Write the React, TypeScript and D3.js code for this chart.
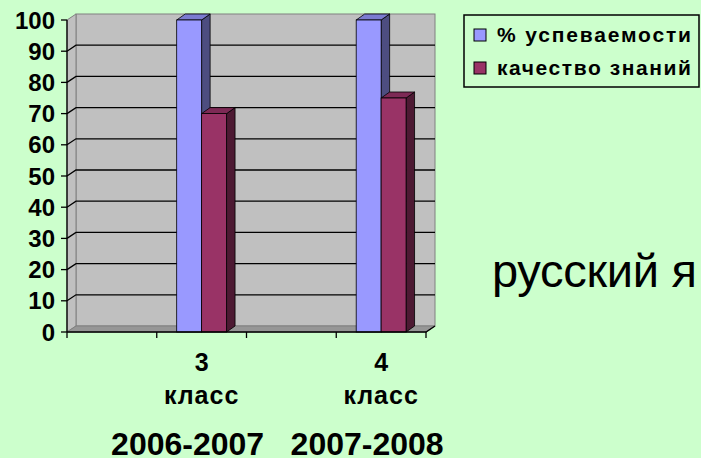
import React, { useRef, useEffect } from "react";
import { select, scaleLinear, scaleBand } from "d3";

const categories = ["", "3 класс", "", "4 класс"];
const seriesNames = ["% успеваемости", "качество знаний"];
const successRate = [null, 100, null, 100];
const knowledgeQuality = [null, 70, null, 75];
const periods = [null, "2006-2007", null, "2007-2008"];
const yTicks = [0, 10, 20, 30, 40, 50, 60, 70, 80, 90, 100];
const subject = "русский я";

const colors = {
  front: ["#9999ff", "#993366"],
  top: ["#7b7bd0", "#7d2a55"],
  side: ["#4d4d80", "#4d1a33"],
};

const FONT = "'Liberation Sans', Arial, sans-serif";

const App = () => {
  const svgRef = useRef(null);

  useEffect(() => {
    const svg = select(svgRef.current);
    svg.selectAll("*").remove();

    const W = 701;
    const H = 458;
    const left = 67;
    const right = 426;
    const bottom = 332;
    const top = 20;
    const dx = 9; // depth offset
    const dy = -6;

    svg.append("rect").attr("width", W).attr("height", H).attr("fill", "#ccffcc");

    const y = scaleLinear().domain([0, 100]).range([bottom, top]);
    const x = scaleBand()
      .domain(categories.map((_, i) => i))
      .range([left, right])
      .padding(0);
    const xs = scaleBand()
      .domain(seriesNames)
      .range([0, x.bandwidth()])
      .paddingInner(0)
      .paddingOuter(0.8);

    const g = svg.append("g");
    const pts = (arr) => arr.map((p) => p.join(",")).join(" ");

    // back wall
    g.append("rect")
      .attr("x", left + dx)
      .attr("y", top + dy)
      .attr("width", right - left)
      .attr("height", bottom - top)
      .attr("fill", "#c0c0c0")
      .attr("stroke", "#808080");

    // side wall
    g.append("polygon")
      .attr(
        "points",
        pts([
          [left, top],
          [left + dx, top + dy],
          [left + dx, bottom + dy],
          [left, bottom],
        ])
      )
      .attr("fill", "#c0c0c0")
      .attr("stroke", "#808080");

    // floor
    g.append("polygon")
      .attr(
        "points",
        pts([
          [left, bottom],
          [right, bottom],
          [right + dx, bottom + dy],
          [left + dx, bottom + dy],
        ])
      )
      .attr("fill", "#969696")
      .attr("stroke", "#808080");

    // gridlines
    yTicks
      .filter((t) => t > 0 && t < 100)
      .forEach((t) => {
        const yy = y(t);
        g.append("path")
          .attr("d", `M${left},${yy}L${left + dx},${yy + dy}L${right + dx},${yy + dy}`)
          .attr("fill", "none")
          .attr("stroke", "#000")
          .attr("stroke-width", 1.3);
      });

    // bars
    const seriesData = [successRate, knowledgeQuality];
    categories.forEach((_, i) => {
      seriesData.forEach((vals, s) => {
        const v = vals[i];
        if (v == null) return;
        const x0 = x(i) + xs(seriesNames[s]);
        const w = xs.bandwidth();
        const yv = y(v);
        const y0 = y(0);
        const bd = 8.5;
        g.append("polygon")
          .attr(
            "points",
            pts([
              [x0 + w, yv],
              [x0 + w + bd, yv + dy],
              [x0 + w + bd, y0 + dy],
              [x0 + w, y0],
            ])
          )
          .attr("fill", colors.side[s])
          .attr("stroke", "#000")
          .attr("stroke-width", 0.8);
        g.append("polygon")
          .attr(
            "points",
            pts([
              [x0, yv],
              [x0 + bd, yv + dy],
              [x0 + w + bd, yv + dy],
              [x0 + w, yv],
            ])
          )
          .attr("fill", colors.top[s])
          .attr("stroke", "#000")
          .attr("stroke-width", 0.8);
        g.append("rect")
          .attr("x", x0)
          .attr("y", yv)
          .attr("width", w)
          .attr("height", y0 - yv)
          .attr("fill", colors.front[s])
          .attr("stroke", "#000")
          .attr("stroke-width", 0.8);
      });
    });

    // axes
    g.append("line")
      .attr("x1", left)
      .attr("x2", left)
      .attr("y1", top)
      .attr("y2", bottom)
      .attr("stroke", "#000")
      .attr("stroke-width", 1.3);
    g.append("path")
      .attr("d", `M${left},${bottom}L${right},${bottom}L${right + dx},${bottom + dy}`)
      .attr("fill", "none")
      .attr("stroke", "#000")
      .attr("stroke-width", 1.3);

    yTicks.forEach((t) => {
      g.append("line")
        .attr("x1", left - 6)
        .attr("x2", left)
        .attr("y1", y(t))
        .attr("y2", y(t))
        .attr("stroke", "#000")
        .attr("stroke-width", 1.3);
      g.append("text")
        .attr("x", 55)
        .attr("y", y(t))
        .attr("dy", "0.36em")
        .attr("text-anchor", "end")
        .attr("font-family", FONT)
        .attr("font-weight", "bold")
        .attr("font-size", 24)
        .text(t);
    });

    const xTicks = categories.map((_, i) => x(i)).concat([right]);
    xTicks.forEach((tx) => {
      g.append("line")
        .attr("x1", tx)
        .attr("x2", tx)
        .attr("y1", bottom)
        .attr("y2", bottom + 6)
        .attr("stroke", "#000")
        .attr("stroke-width", 1.3);
    });

    // category labels
    categories.forEach((c, i) => {
      if (!c) return;
      const cx = x(i) + x.bandwidth() / 2;
      const [num, word] = c.split(" ");
      g.append("text")
        .attr("x", cx)
        .attr("y", 371)
        .attr("text-anchor", "middle")
        .attr("font-family", FONT)
        .attr("font-weight", "bold")
        .attr("font-size", 25)
        .text(num);
      g.append("text")
        .attr("x", cx)
        .attr("y", 404)
        .attr("text-anchor", "middle")
        .attr("font-family", FONT)
        .attr("font-weight", "bold")
        .attr("font-size", 25)
        .attr("letter-spacing", 1)
        .text(word);
      if (periods[i]) {
        g.append("text")
          .attr("x", cx - 14)
          .attr("y", 455)
          .attr("text-anchor", "middle")
          .attr("font-family", FONT)
          .attr("font-weight", "bold")
          .attr("font-size", 32)
          .text(periods[i]);
      }
    });

    // legend
    const lg = svg.append("g");
    lg.append("rect")
      .attr("x", 464)
      .attr("y", 15)
      .attr("width", 235)
      .attr("height", 72)
      .attr("fill", "none")
      .attr("stroke", "#000")
      .attr("stroke-width", 1.5);
    seriesNames.forEach((name, s) => {
      const ly = 29 + s * 33;
      lg.append("rect")
        .attr("x", 474)
        .attr("y", ly)
        .attr("width", 12)
        .attr("height", 12)
        .attr("fill", colors.front[s])
        .attr("stroke", "#000")
        .attr("stroke-width", 1);
      lg.append("text")
        .attr("x", 497)
        .attr("y", ly + 13)
        .attr("font-family", FONT)
        .attr("font-weight", "bold")
        .attr("font-size", 21)
        .attr("textLength", 194)
        .attr("lengthAdjust", "spacing")
        .text(name);
    });

    svg
      .append("text")
      .attr("x", 492)
      .attr("y", 287)
      .attr("font-family", FONT)
      .attr("font-size", 47)
      .attr("textLength", 205)
      .attr("lengthAdjust", "spacing")
      .text(subject);
  }, []);

  return (
    <svg
      ref={svgRef}
      width={701}
      height={458}
      style={{ position: "absolute", left: 0, top: 0, display: "block" }}
    />
  );
};

export default App;
